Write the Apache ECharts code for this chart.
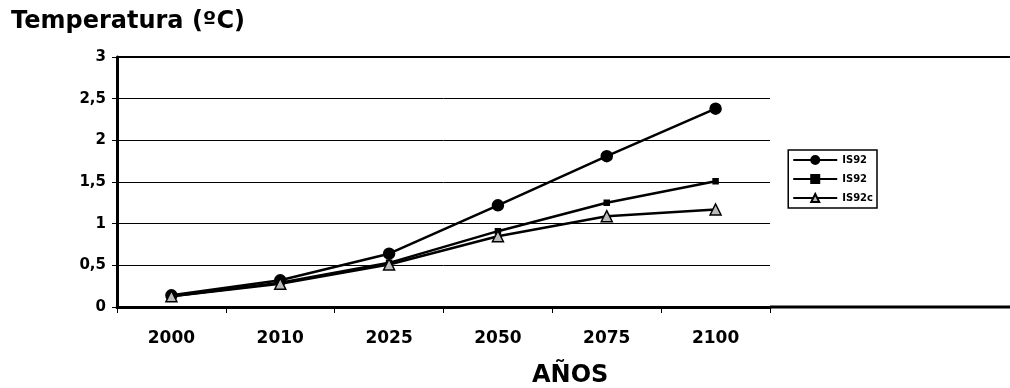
<!DOCTYPE html>
<html><head><meta charset="utf-8">
<script src="https://cdn.jsdelivr.net/npm/echarts@6/dist/echarts.min.js"></script>
<style>html,body{margin:0;padding:0;background:#fff}#c{width:1010px;height:388px}</style>
</head><body><div id="c"></div>
<script>
var years = ['2000','2010','2025','2050','2075','2100'];
var is92a = [0.14, 0.32, 0.64, 1.22, 1.81, 2.38];
var is92b = [0.13, 0.29, 0.53, 0.91, 1.25, 1.51];
var is92c = [0.13, 0.28, 0.51, 0.85, 1.09, 1.17];
var yTicks = ['0','0,5','1','1,5','2','2,5','3'];
var seriesNames = ['IS92','IS92 ','IS92c'];

var chart = echarts.init(document.getElementById('c'));
var F = '"DejaVu Sans", sans-serif';
function ser(name, data, sym, size, fill){
  return {name:name, type:'line', data:data, symbol:sym, symbolSize:size, showSymbol:true,
    lineStyle:{color:'#000', width:2.5}, itemStyle:{color:fill, borderColor:'#000', borderWidth:1.5},
    emphasis:{disabled:true}, z:3};
}
chart.setOption({
  animation:false,
  title:[{text:'Temperatura (ºC)', left:6, top:5, textStyle:{fontFamily:F, fontSize:24, fontWeight:'bold', color:'#000'}},
         {text:'AÑOS', left:527, top:359, textStyle:{fontFamily:F, fontSize:24, fontWeight:'bold', color:'#000'}}],
  grid:{left:117, right:240, top:57, bottom:81},
  legend:{right:133, top:150, orient:'vertical', itemGap:9, itemWidth:44, itemHeight:10,
    borderColor:'#000', borderWidth:1.5, padding:[5,4,5,4],
    textStyle:{fontFamily:F, fontSize:10, fontWeight:'bold', color:'#000'},
    data:seriesNames},
  xAxis:{type:'category', data:years, boundaryGap:true,
    axisLine:{lineStyle:{color:'#000', width:3}},
    axisTick:{show:true, length:6, lineStyle:{color:'#000', width:1}},
    axisLabel:{fontFamily:F, fontSize:17, fontWeight:'bold', color:'#000', margin:23}},
  yAxis:{type:'value', min:0, max:3, interval:0.5,
    axisLine:{show:true, lineStyle:{color:'#000', width:3}},
    axisTick:{show:true, length:5, lineStyle:{color:'#000'}},
    splitLine:{lineStyle:{color:'#000', width:1}},
    axisLabel:{fontFamily:F, fontSize:15, fontWeight:'bold', color:'#000', margin:11,
      formatter:function(v){return yTicks[Math.round(v*2)];}}},
  graphic:[
    {type:'line', shape:{x1:117,y1:57,x2:1010,y2:57}, style:{stroke:'#000', lineWidth:2}},
    {type:'line', shape:{x1:770,y1:307,x2:1010,y2:307}, style:{stroke:'#000', lineWidth:3}}
  ],
  series:[
    ser(seriesNames[0], is92a, 'circle', 11, '#000'),
    ser(seriesNames[1], is92b, 'rect', 5, '#000'),
    ser(seriesNames[2], is92c, 'triangle', 11, '#bbb')
  ]
});
</script></body></html>
